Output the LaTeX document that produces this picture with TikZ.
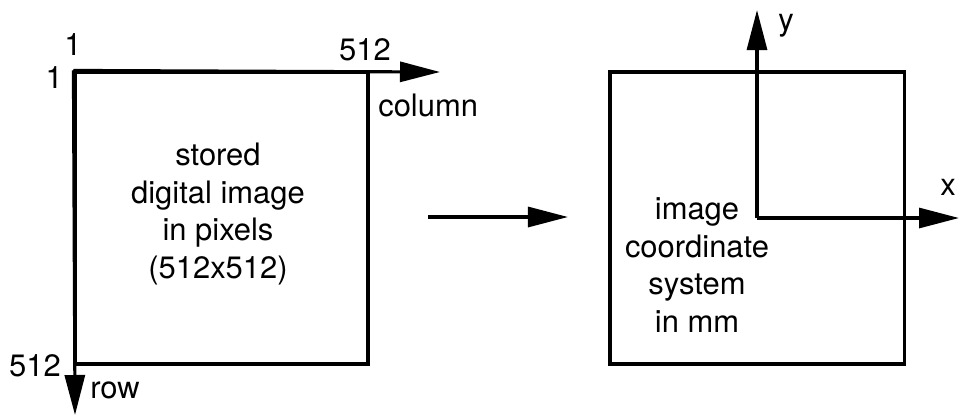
\documentclass[tikz,border=0pt]{standalone}
\usepackage{fontspec}
\setmainfont{TeX Gyre Heros}
\usetikzlibrary{arrows.meta,positioning}

\begin{document}
\begin{tikzpicture}[
  x=0.025cm, y=-0.025cm,
  frame/.style={draw, line width=2.2pt, inner sep=0pt},
  axis/.style={-{Triangle[length=1cm, width=0.5cm]}, line width=2.2pt},
  txt/.style={font=\fontsize{22}{26.8}\selectfont, align=center, inner sep=0pt},
  tick/.style={font=\fontsize{22}{26}\selectfont, inner sep=0pt}
]
  \useasboundingbox (0,0) rectangle (960,416);

  % --- Stored image ---
  \node[frame, minimum width=7.325cm, minimum height=7.3cm] (pix) at (221.5,218) {};
  \node[txt] (pixtxt) at (218,214) {stored\\digital image\\in pixels\\(512x512)};

  % --- Image coordinate system ---
  \node[frame, minimum width=7.35cm, minimum height=7.3cm] (img) at (757,218) {};
  \node[txt] (imgtxt) at (697,265) {image\\coordinate\\system\\in mm};

  % axis ends
  \coordinate (colend) at (440,72);
  \coordinate (rowend) at (75,415);
  \coordinate (yend) at (757,10);
  \coordinate (xend) at (959,218);
  \coordinate (mapA) at (428,217);
  \coordinate (mapB) at (568,217);

  % Pixel axes
  \draw[axis] (pix.north west) -- (colend);
  \draw[axis] (pix.north west) -- (rowend);

  % Image axes
  \draw[axis] (img.center) -- (yend);
  \draw[axis] (img.center) -- (xend);

  % Mapping
  \draw[axis] (mapA) -- (mapB);

  % Labels
  \node[tick] (one1) at (73,45) {1};
  \node[tick, anchor=east] (one2) at (63,78) {1};
  \node[tick] (colmax) at (365,50) {512};
  \node[tick, anchor=west] (col) at (378,105) {column};
  \node[tick, anchor=east] (rowmax) at (61,366) {512};
  \node[tick, anchor=west] (row) at (90,390) {row};
  \node[tick] (ylab) at (786,26) {y};
  \node[tick] (xlab) at (948,187) {x};

\end{tikzpicture}
\end{document}
